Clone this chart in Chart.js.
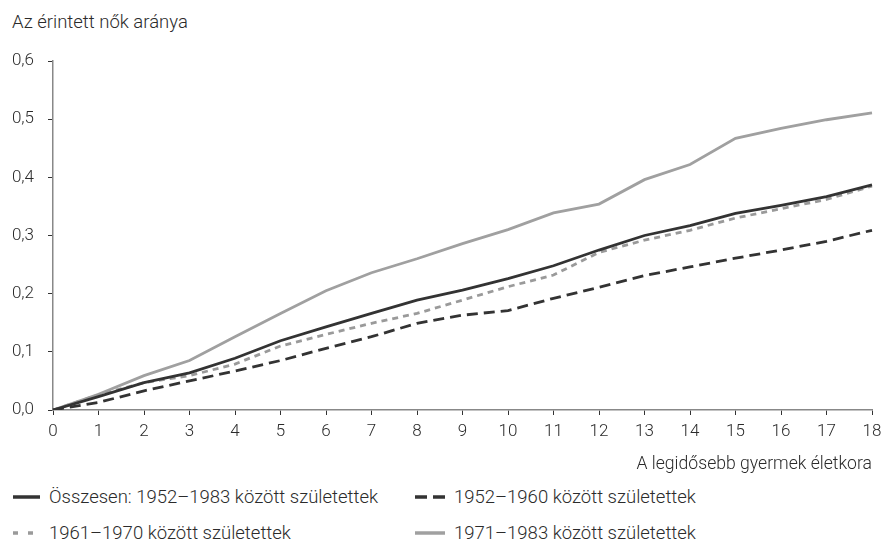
<!DOCTYPE html>
<html>
<head>
<meta charset="utf-8">
<script src="https://cdn.jsdelivr.net/npm/chart.js@4.4.1/dist/chart.umd.min.js"></script>
<style>
  html, body { margin: 0; padding: 0; background: #fff; }
  body { width: 882px; height: 548px; position: relative; overflow: hidden;
         font-family: Roboto, "Liberation Sans", sans-serif; font-weight: 300; color: #2b2b2b; }
  #wrap { position: absolute; left: 0; top: 0; width: 882px; height: 480px; }
  #ytitle { position: absolute; left: 12px; top: 11px; font-size: 18.5px; line-height: 22px; white-space: nowrap; }
  .leg { position: absolute; font-size: 18.5px; line-height: 22px; white-space: nowrap; display: flex; align-items: center; }
  .leg svg { margin-right: 9px; }
</style>
</head>
<body>
<div id="ytitle">Az érintett nők aránya</div>
<div id="wrap"><canvas id="c" width="882" height="480"></canvas></div>
<div id="legend"></div>
<script>
const categories = ["0","1","2","3","4","5","6","7","8","9","10","11","12","13","14","15","16","17","18"];
const seriesNames = [
  "Összesen: 1952–1983 között születettek",
  "1952–1960 között születettek",
  "1961–1970 között születettek",
  "1971–1983 között születettek"
];
const totalValues = [0, 0.023, 0.047, 0.064, 0.089, 0.119, 0.143, 0.166, 0.189, 0.206, 0.226, 0.248, 0.275, 0.300, 0.317, 0.338, 0.352, 0.367, 0.387];
const c1952Values = [0, 0.013, 0.033, 0.050, 0.067, 0.085, 0.106, 0.126, 0.149, 0.163, 0.171, 0.192, 0.211, 0.231, 0.246, 0.261, 0.275, 0.290, 0.309];
const c1961Values = [0, 0.026, 0.047, 0.059, 0.079, 0.110, 0.130, 0.149, 0.166, 0.189, 0.212, 0.232, 0.271, 0.292, 0.309, 0.330, 0.346, 0.362, 0.385];
const c1971Values = [0, 0.027, 0.059, 0.085, 0.126, 0.166, 0.205, 0.236, 0.260, 0.286, 0.310, 0.339, 0.354, 0.396, 0.422, 0.467, 0.484, 0.499, 0.511];
const yTickValues = [0, 0.1, 0.2, 0.3, 0.4, 0.5, 0.6];
const xTitle = "A legidősebb gyermek életkora";

const styles = [
  { color: "#333333", dash: [] , width: 2.8},
  { color: "#333333", dash: [11, 6], width: 2.8 },
  { color: "#9a9a9a", dash: [6, 5], width: 2.8 },
  { color: "#a0a0a0", dash: [], width: 2.8 }
];
const allValues = [totalValues, c1952Values, c1961Values, c1971Values];

const FONT = { family: "Roboto, 'Liberation Sans', sans-serif", size: 17, weight: 300 };
const TFONT = { family: "Roboto, 'Liberation Sans', sans-serif", size: 17.6, weight: 300 };

new Chart(document.getElementById("c"), {
  type: "line",
  data: {
    labels: categories,
    datasets: allValues.map((vals, i) => ({
      label: seriesNames[i],
      data: vals,
      borderColor: styles[i].color,
      borderDash: styles[i].dash,
      borderWidth: styles[i].width,
      pointRadius: 0,
      tension: 0,
      fill: false
    }))
  },
  options: {
    responsive: false,
    animation: false,
    layout: { padding: { left: 0, top: 61, right: 2, bottom: 0 } },
    plugins: { legend: { display: false }, tooltip: { enabled: false } },
    scales: {
      x: {
        offset: false,
        grid: { display: true, drawOnChartArea: false, drawTicks: true, tickLength: 5, color: "#333", lineWidth: 1 },
        border: { display: true, color: "#888", width: 1.5 },
        ticks: { color: "#2b2b2b", font: FONT, padding: 7, maxRotation: 0, autoSkip: false },
        title: { display: true, text: xTitle, align: "end", color: "#2b2b2b", font: TFONT, padding: { top: 0, bottom: 5 } },
        afterFit: (s) => { s.height = 70; s.paddingRight = 10; }
      },
      y: {
        min: 0, max: 0.6,
        afterBuildTicks: (s) => { s.ticks = yTickValues.map(v => ({ value: v })); },
        grid: { display: true, drawOnChartArea: false, drawTicks: true, tickLength: 5, color: "#333", lineWidth: 1 },
        border: { display: true, color: "#888", width: 1.5 },
        ticks: { color: "#2b2b2b", font: FONT, padding: 14,
                 callback: (v) => Number(v).toFixed(1).replace(".", ",") },
        afterFit: (s) => { s.width = 53; }
      }
    }
  }
});

// HTML legend
const legendPos = [
  { left: 13, top: 486 }, { left: 415, top: 486 },
  { left: 13, top: 522 }, { left: 415, top: 522 }
];
const swatchW = [27, 30, 27, 30];
const legend = document.getElementById("legend");
seriesNames.forEach((name, i) => {
  const d = document.createElement("div");
  d.className = "leg";
  d.style.left = legendPos[i].left + "px";
  d.style.top = legendPos[i].top + "px";
  const dash = i === 1 ? "12,6" : (i === 2 ? "5,10" : "none");
  d.innerHTML = '<svg width="' + swatchW[i] + '" height="22"><line x1="0" y1="11" x2="' + swatchW[i] + '" y2="11" stroke="' + styles[i].color +
    '" stroke-width="3.5" stroke-dasharray="' + dash + '"/></svg><span>' + name + '</span>';
  legend.appendChild(d);
});
</script>
</body>
</html>
